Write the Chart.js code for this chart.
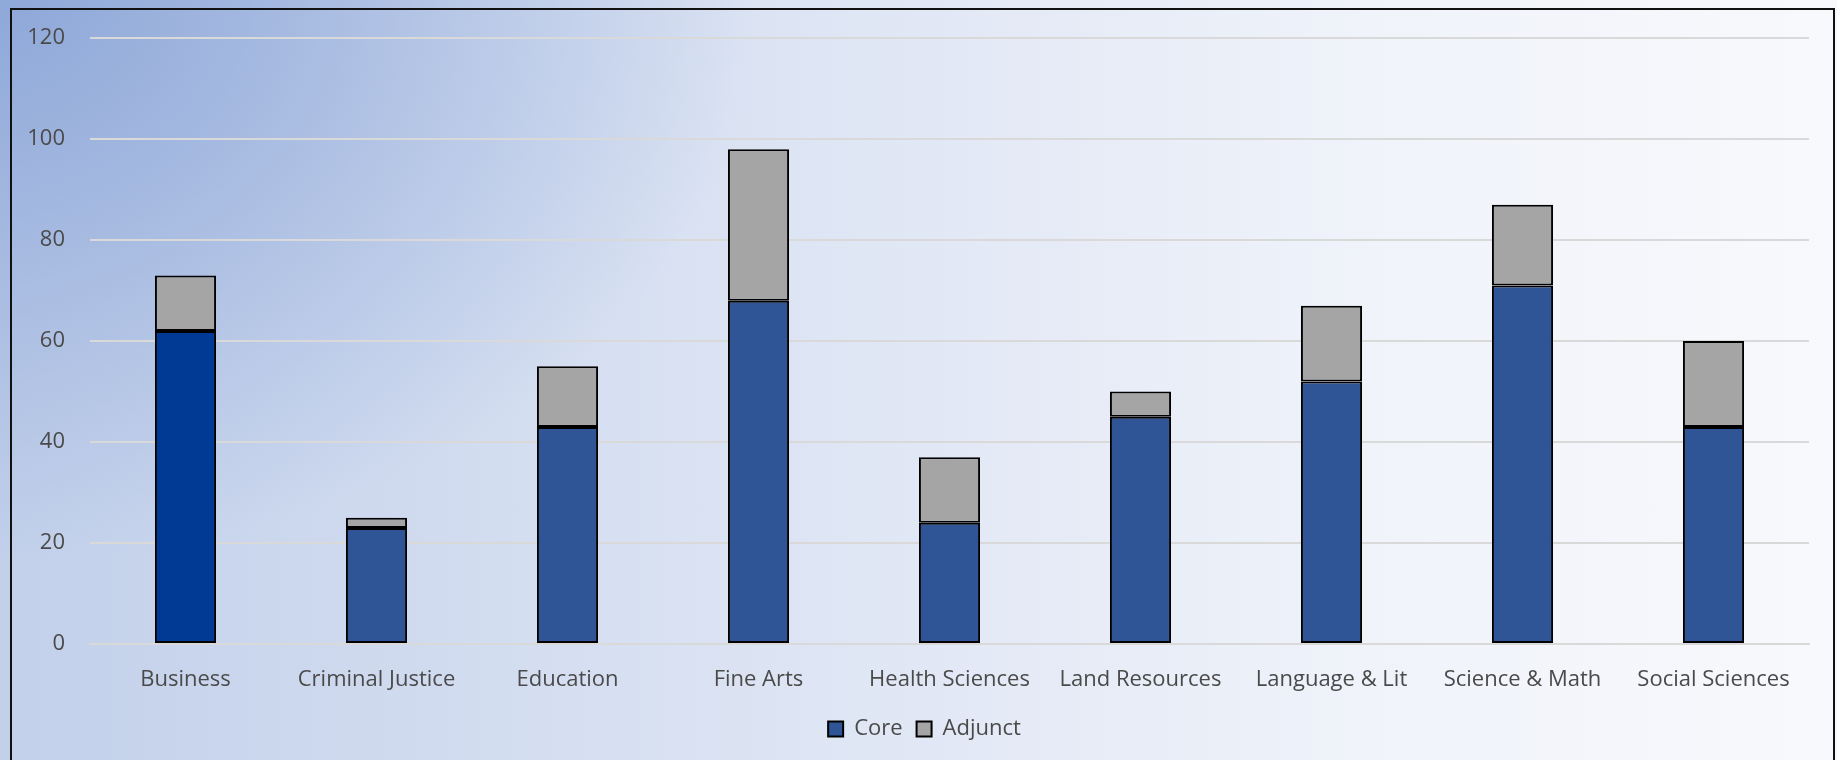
<!DOCTYPE html>
<html>
<head>
<meta charset="utf-8">
<script src="https://cdn.jsdelivr.net/npm/chart.js@4"></script>
<style>
  html, body { margin:0; padding:0; }
  body {
    width:1837px; height:760px; overflow:hidden; position:relative;
    background:
      radial-gradient(ellipse 760px 560px at 0 0, rgba(140,166,216,0.95), rgba(140,166,216,0) 100%),
      linear-gradient(to right, #c2d0ea 0%, #dbe3f3 40%, #f0f3fa 75%, #f8f9fc 100%);
  }
  #frame { position:absolute; left:10px; top:8px; width:1821px; height:800px; border:2px solid #111; }
  #wrap { position:absolute; left:0; top:0; width:1837px; height:760px; }
</style>
</head>
<body>
<div id="frame"></div>
<div id="wrap"><canvas id="c"></canvas></div>
<script>
const categories = ["Business","Criminal Justice","Education","Fine Arts","Health Sciences","Land Resources","Language & Lit","Science & Math","Social Sciences"];
const core    = [62, 23, 43, 68, 24, 45, 52, 71, 43];
const adjunct = [11,  2, 12, 30, 13,  5, 15, 16, 17];
const yTicks  = [0, 20, 40, 60, 80, 100, 120];

const coreColors = categories.map((c,i)=> i===0 ? "#003a94" : "#2f5597");
const font = { family:"Open Sans", size:22 };

// nudge legend a bit right, like the original
const legendShift = {
  id:"legendShift",
  afterLayout(chart){ if(chart.legend){ chart.legend.left += 14; chart.legend.right += 14; } }
};

new Chart(document.getElementById("c"), {
  type: "bar",
  data: {
    labels: categories,
    datasets: [
      { label:"Core", data:core, backgroundColor:coreColors, borderColor:"#000", borderWidth:2, borderSkipped:false },
      { label:"Adjunct", data:adjunct, backgroundColor:"#a5a5a5", borderColor:"#000", borderWidth:2, borderSkipped:false }
    ]
  },
  plugins:[legendShift],
  options: {
    responsive:true, maintainAspectRatio:false, animation:false,
    datasets:{ bar:{ categoryPercentage:1, barPercentage:0.32 } },
    layout:{ padding:{ left:12, right:28, top:35, bottom:10 } },
    plugins:{
      tooltip:{ enabled:false },
      legend:{
        position:"bottom",
        labels:{
          color:"#4a4a4a", font, boxWidth:15, boxHeight:15, padding:14,
          generateLabels:(chart)=>chart.data.datasets.map((d,i)=>({
            text:d.label, fillStyle: i===0 ? "#2f5597" : "#a5a5a5",
            strokeStyle:"#000", lineWidth:2, datasetIndex:i, fontColor:"#4a4a4a"
          }))
        }
      }
    },
    scales:{
      x:{
        stacked:true,
        grid:{ display:false, drawTicks:false },
        border:{ display:true, color:"#d9d9d9", width:2 },
        ticks:{ color:"#4a4a4a", font, padding:23, maxRotation:0 },
        afterFit:(s)=>{ s.height = 60; }
      },
      y:{
        stacked:true, min:0, max:120,
        afterBuildTicks:(s)=>{ s.ticks = yTicks.map(v=>({value:v})); },
        grid:{ color:"#d9d9d9", lineWidth:2, drawTicks:false },
        border:{ display:false },
        ticks:{ color:"#4a4a4a", font, padding:25 },
        afterFit:(s)=>{ s.width = 78; }
      }
    }
  }
});
</script>
</body>
</html>
